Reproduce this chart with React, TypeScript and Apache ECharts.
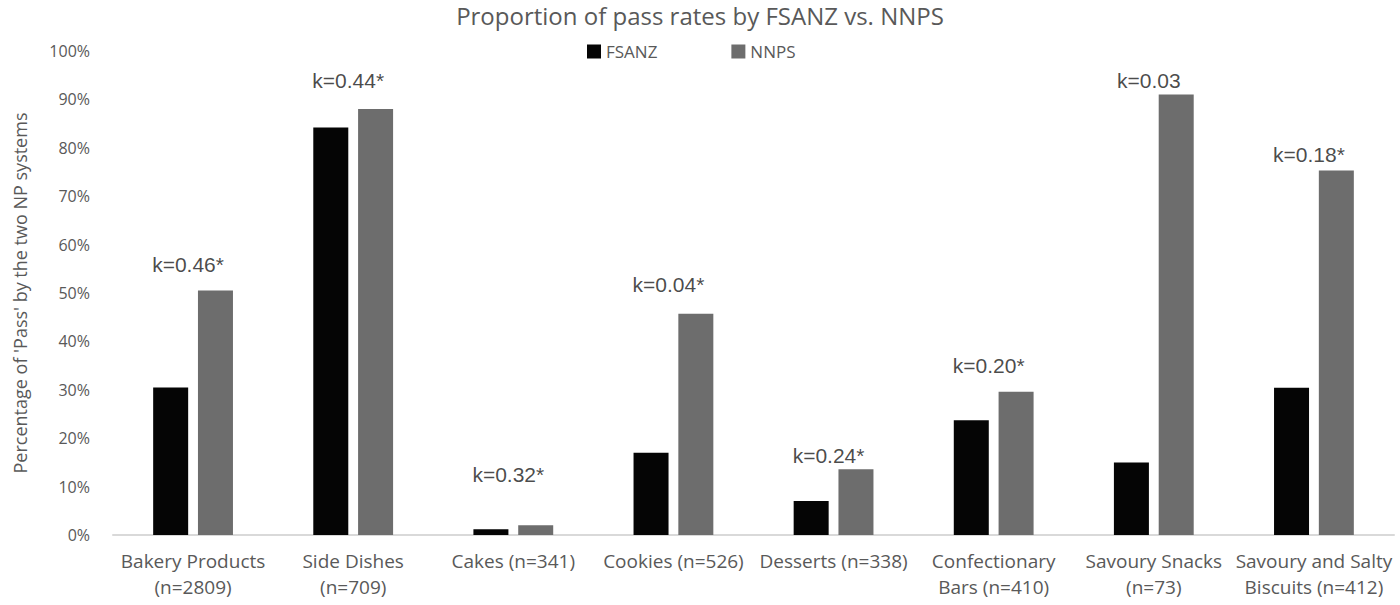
import React, { useEffect, useRef } from "react";
import * as echarts from "echarts";

const categories = [
  "Bakery Products\n(n=2809)",
  "Side Dishes\n(n=709)",
  "Cakes (n=341)",
  "Cookies (n=526)",
  "Desserts (n=338)",
  "Confectionary\nBars (n=410)",
  "Savoury Snacks\n(n=73)",
  "Savoury and Salty\nBiscuits (n=412)",
];
const fsanz = [30.5, 84.2, 1.2, 17, 7, 23.7, 15, 30.4];
const nnps = [50.5, 88, 2, 45.7, 13.6, 29.6, 91, 75.3];
const kappaLabels = ["k=0.46*", "k=0.44*", "k=0.32*", "k=0.04*", "k=0.24*", "k=0.20*", "k=0.03", "k=0.18*"];
const kappaY = [55.8, 93.9, 12.4, 51.7, 16.5, 35.1, 94, 78.7];
const yTicks = [0, 10, 20, 30, 40, 50, 60, 70, 80, 90, 100];

const FONT = "'Open Sans', Lato, sans-serif";
const GREY_TEXT = "#595959";

export default function App() {
  const ref = useRef<HTMLDivElement>(null);
  useEffect(() => {
    if (!ref.current) return;
    const chart = echarts.init(ref.current, null, { renderer: "svg" });
    chart.setOption({
      animation: false,
      backgroundColor: "#ffffff",
      title: {
        text: "Proportion of pass rates by FSANZ vs. NNPS",
        left: "center",
        top: -2,
        textStyle: { fontFamily: FONT, fontSize: 24, fontWeight: "normal", color: GREY_TEXT },
      },
      legend: {
        data: ["FSANZ", "NNPS"],
        top: 38,
        left: 582,
        itemWidth: 14,
        itemHeight: 14,
        itemGap: 74,
        icon: "rect",
        textStyle: { fontFamily: FONT, fontSize: 17, color: GREY_TEXT },
      },
      grid: { left: 113, right: 6, top: 51, bottom: 70 },
      xAxis: {
        type: "category",
        data: categories,
        axisLine: { lineStyle: { color: "#d9d9d9", width: 2 } },
        axisTick: { show: false },
        axisLabel: {
          interval: 0,
          fontFamily: FONT,
          fontSize: 19,
          color: GREY_TEXT,
          lineHeight: 26,
          margin: 13,
        },
      },
      yAxis: {
        type: "value",
        min: 0,
        max: 100,
        interval: 10,
        name: "Percentage of 'Pass' by the two NP systems",
        nameLocation: "middle",
        nameGap: 84,
        nameTextStyle: { fontFamily: FONT, fontSize: 18, color: GREY_TEXT },
        axisLine: { show: false },
        axisTick: { show: false },
        splitLine: { show: false },
        axisLabel: {
          fontFamily: FONT,
          fontSize: 16,
          color: GREY_TEXT,
          margin: 23,
          formatter: (v: number) => (yTicks.includes(v) ? v + "%" : ""),
        },
      },
      series: [
        {
          name: "FSANZ",
          type: "bar",
          data: fsanz,
          barWidth: 35,
          barGap: "28%",
          itemStyle: { color: "#050505" },
        },
        {
          name: "NNPS",
          type: "bar",
          data: nnps,
          barWidth: 35,
          itemStyle: { color: "#6d6d6d" },
        },
        {
          name: "kappa",
          type: "scatter",
          data: kappaY,
          symbolSize: 0,
          silent: true,
          label: {
            show: true,
            position: "inside",
            offset: [-5, 0],
            formatter: (p: any) => kappaLabels[p.dataIndex],
            fontFamily: "'Liberation Sans', Arial, sans-serif",
            fontSize: 21,
            color: "#1a1a1a",
          },
        },
      ],
    });
    return () => chart.dispose();
  }, []);
  return (
    <div
      ref={ref}
      style={{ position: "fixed", left: 0, top: 0, width: 1400, height: 605 }}
    />
  );
}
